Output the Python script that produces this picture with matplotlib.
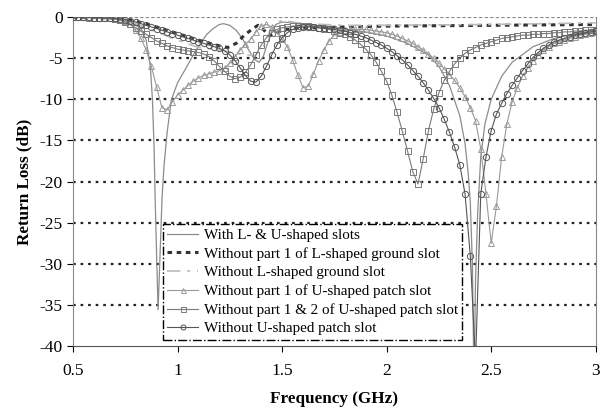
import numpy as np
import matplotlib
matplotlib.use("Agg")
import matplotlib.pyplot as plt

plt.rcParams['font.family'] = ['Liberation Serif', 'DejaVu Serif']
plt.rcParams['axes.unicode_minus'] = False

# frequency grid for the marker curves (GHz)
freq = [0.5 + 0.025 * i for i in range(101)]

# Without part 1 of U-shaped patch slot (triangles)
tri_db = [0, 0, 0, -0.05, -0.05, -0.1, -0.1, -0.15, -0.2, -0.3,
          -0.5, -0.9, -1.6, -2.6, -4.0, -6.0, -8.5, -11.0, -11.3, -10.3,
          -9.5, -8.9, -8.3, -7.8, -7.4, -7.1, -6.9, -6.7, -6.5, -6.2,
          -5.6, -4.8, -4.0, -3.3, -2.7, -1.8, -1.1, -0.9, -1.2, -1.9,
          -2.7, -3.6, -5.2, -7.0, -8.6, -8.4, -6.9, -5.3, -4.0, -2.9,
          -2.2, -1.8, -1.6, -1.5, -1.5, -1.5, -1.5, -1.6, -1.7, -1.8,
          -1.9, -2.1, -2.3, -2.6, -2.9, -3.2, -3.6, -4.0, -4.5, -5.0,
          -5.6, -6.3, -7.0, -7.7, -8.6, -9.7, -11.0, -12.6, -16.0, -21.5,
          -27.5, -23.0, -17.0, -13.0, -10.3, -8.6, -7.2, -6.2, -5.3, -4.6,
          -4.0, -3.6, -3.2, -3.0, -2.8, -2.6, -2.4, -2.2, -2.1, -1.9, -1.8]

# Without part 1 & 2 of U-shaped patch slot (squares)
sq_db = [0, 0, 0, -0.05, -0.05, -0.1, -0.1, -0.15, -0.2, -0.35,
         -0.6, -0.9, -1.3, -1.7, -2.1, -2.5, -2.9, -3.2, -3.5, -3.7,
         -3.9, -4.0, -4.1, -4.2, -4.3, -4.5, -4.8, -5.3, -6.0, -6.6,
         -7.2, -7.5, -7.3, -6.7, -5.8, -4.6, -3.4, -2.5, -1.9, -1.5,
         -1.3, -1.2, -1.1, -1.1, -1.1, -1.1, -1.2, -1.3, -1.4, -1.5,
         -1.7, -1.9, -2.1, -2.4, -2.8, -3.3, -3.9, -4.6, -5.5, -6.6,
         -7.8, -9.5, -11.6, -13.9, -16.3, -18.8, -20.3, -17.2, -13.8, -11.2,
         -9.2, -7.7, -6.6, -5.7, -5.0, -4.4, -4.0, -3.7, -3.4, -3.2,
         -3.0, -2.8, -2.6, -2.5, -2.4, -2.3, -2.2, -2.2, -2.1, -2.1,
         -2.0, -2.0, -1.9, -1.9, -1.8, -1.8, -1.7, -1.7, -1.6, -1.6, -1.6]

# Without U-shaped patch slot (circles)
circ_db = [0, 0, 0, 0, -0.05, -0.05, -0.1, -0.1, -0.15, -0.2,
           -0.3, -0.45, -0.6, -0.8, -1.0, -1.2, -1.4, -1.6, -1.8, -2.0,
           -2.2, -2.4, -2.6, -2.8, -3.0, -3.2, -3.4, -3.6, -3.8, -4.1,
           -4.6, -5.3, -6.2, -7.1, -7.8, -7.9, -7.2, -6.0, -4.6, -3.4,
           -2.5, -1.9, -1.5, -1.3, -1.2, -1.2, -1.2, -1.3, -1.3, -1.4,
           -1.5, -1.6, -1.7, -1.9, -2.1, -2.3, -2.5, -2.8, -3.1, -3.4,
           -3.8, -4.2, -4.7, -5.2, -5.8, -6.5, -7.2, -8.0, -8.9, -9.9,
           -11.0, -12.4, -14.0, -15.8, -18.0, -21.5, -29.0, -42.0, -21.5, -17.0,
           -13.8, -11.8, -10.5, -9.3, -8.3, -7.4, -6.5, -5.7, -4.9, -4.3,
           -3.8, -3.4, -3.0, -2.8, -2.6, -2.4, -2.2, -2.0, -1.9, -1.8, -1.7]

# With L- & U-shaped slots (thin line)
with_f = [0.5, 0.6, 0.7, 0.75, 0.8, 0.83, 0.85, 0.87, 0.88, 0.888, 0.893, 0.9,
          0.907, 0.915, 0.926, 0.935, 0.95, 0.97, 1.0, 1.045, 1.08, 1.11, 1.14,
          1.17, 1.2, 1.22, 1.25, 1.28, 1.31, 1.34, 1.37, 1.39, 1.41, 1.43, 1.45,
          1.47, 1.5, 1.55, 1.6, 1.7, 1.8, 1.9, 2.0, 2.1, 2.2, 2.25, 2.3, 2.35,
          2.375, 2.39, 2.4, 2.41, 2.418, 2.425, 2.435, 2.45, 2.47, 2.5, 2.55,
          2.6, 2.7, 2.8, 2.9, 3.0]
with_db = [0, -0.05, -0.2, -0.4, -0.9, -1.6, -2.8, -6.0, -10.0, -16.0, -22.0, -29.0,
           -35.6, -30.0, -22.0, -18.2, -14.1, -10.1, -8.0, -6.0, -4.4, -3.2, -2.1,
           -1.4, -0.9, -0.8, -1.0, -1.6, -2.6, -4.0, -5.2, -5.5, -4.8, -3.2, -1.8,
           -0.9, -0.6, -0.7, -0.9, -1.2, -1.5, -1.8, -2.3, -3.2, -4.6, -6.0, -8.3, -12.0,
           -15.4, -19.0, -22.5, -30.0, -45.0, -32.0, -24.0, -17.0, -13.0, -10.0, -7.2,
           -5.5, -3.6, -2.6, -2.0, -1.6]

# Without part 1 of L-shaped ground slot (dark dashes)
part1L_f = [0.5, 0.6, 0.7, 0.8, 0.9, 1.0, 1.1, 1.2, 1.24, 1.28, 1.32, 1.36, 1.385,
            1.41, 1.44, 1.47, 1.5, 1.55, 1.65, 1.8, 2.0, 2.5, 3.0]
part1L_db = [0, -0.05, -0.15, -0.5, -1.2, -2.0, -2.8, -3.5, -3.7, -3.2, -2.2, -1.4,
             -1.0, -1.5, -2.3, -2.0, -1.6, -1.4, -1.3, -1.2, -1.1, -1.0, -0.9]

# Without L-shaped ground slot (light grey long dash)
noL_f = [0.5, 0.6, 0.7, 0.8, 0.9, 1.0, 1.1, 1.2, 1.3, 1.37, 1.41, 1.44, 1.47, 1.5,
         1.55, 1.6, 1.8, 2.0, 2.5, 3.0]
noL_db = [0, -0.05, -0.2, -0.8, -1.8, -2.8, -3.7, -4.0, -4.5, -4.7, -3.6, -1.8, -0.7,
          -0.4, -0.6, -0.8, -1.0, -1.0, -0.9, -0.7]

labels = ["With L- & U-shaped slots",
          "Without part 1 of L-shaped ground slot",
          "Without L-shaped ground slot",
          "Without part 1 of U-shaped patch slot",
          "Without part 1 & 2 of U-shaped patch slot",
          "Without U-shaped patch slot"]


fig = plt.figure(figsize=(6.03, 4.07), dpi=100)
ax = fig.add_axes([0.121, 0.150, 0.867, 0.808])

for yv in range(-35, 0, 5):
    ax.axhline(yv, color='#222222', lw=1.6, ls=(0, (1.2, 2.2)), zorder=1)
ax.axhline(0, color='#888888', lw=0.8, ls=(0, (3, 2)), zorder=1)

ax.plot(with_f, with_db, color='#8c8c8c', lw=0.9, label=labels[0], zorder=3)
ax.plot(part1L_f, part1L_db, color='#333333', lw=2.2, ls=(0, (1.5, 1.5)),
        label=labels[1], zorder=3)
ax.plot(noL_f, noL_db, color='#bbbbbb', lw=1.2, ls=(0, (8, 4, 2, 4)),
        label=labels[2], zorder=3)
ax.plot(freq, tri_db, color='#9a9a9a', lw=0.8, marker='^', ms=4.5, mfc='none',
        mec='#9a9a9a', mew=0.7, label=labels[3], zorder=4)
ax.plot(freq, sq_db, color='#7a7a7a', lw=0.8, marker='s', ms=4.5, mfc='none',
        mec='#7a7a7a', mew=0.7, label=labels[4], zorder=4)
ax.plot(freq, circ_db, color='#555555', lw=0.8, marker='o', ms=4.5, mfc='none',
        mec='#555555', mew=0.7, label=labels[5], zorder=4)

ax.set_xlim(0.5, 3)
ax.set_ylim(-40, 0)
ax.set_xticks([0.5, 1, 1.5, 2, 2.5, 3])
ax.set_xticklabels(["0.5", "1", "1.5", "2", "2.5", "3"])
ax.set_yticks(range(-40, 1, 5))
ax.set_yticklabels([str(v) for v in range(-40, 1, 5)])
ax.tick_params(axis='both', labelsize=12.5, direction='out', length=4, width=0.8)
ax.tick_params(axis='x', pad=8)

ax.spines['top'].set_visible(False)
ax.spines['left'].set_color('#888888')
ax.spines['right'].set_color('#888888')
ax.spines['bottom'].set_color('#555555')

ax.set_xlabel('Frequency (GHz)', fontsize=12.3, fontweight='bold', labelpad=9)
ax.set_ylabel('Return Loss (dB)', fontsize=12.3, fontweight='bold', labelpad=5)

leg = ax.legend(loc='lower left', bbox_to_anchor=(0.172, 0.018), fontsize=10.9,
                fancybox=False, framealpha=1, edgecolor='black', borderaxespad=0,
                handlelength=2.0, handletextpad=0.4, labelspacing=0.33,
                borderpad=0.3, markerscale=0.8)
leg.get_frame().set_linestyle('-.')
leg.get_frame().set_linewidth(1.0)
leg.set_zorder(10)

plt.savefig("out.png", dpi=100)
